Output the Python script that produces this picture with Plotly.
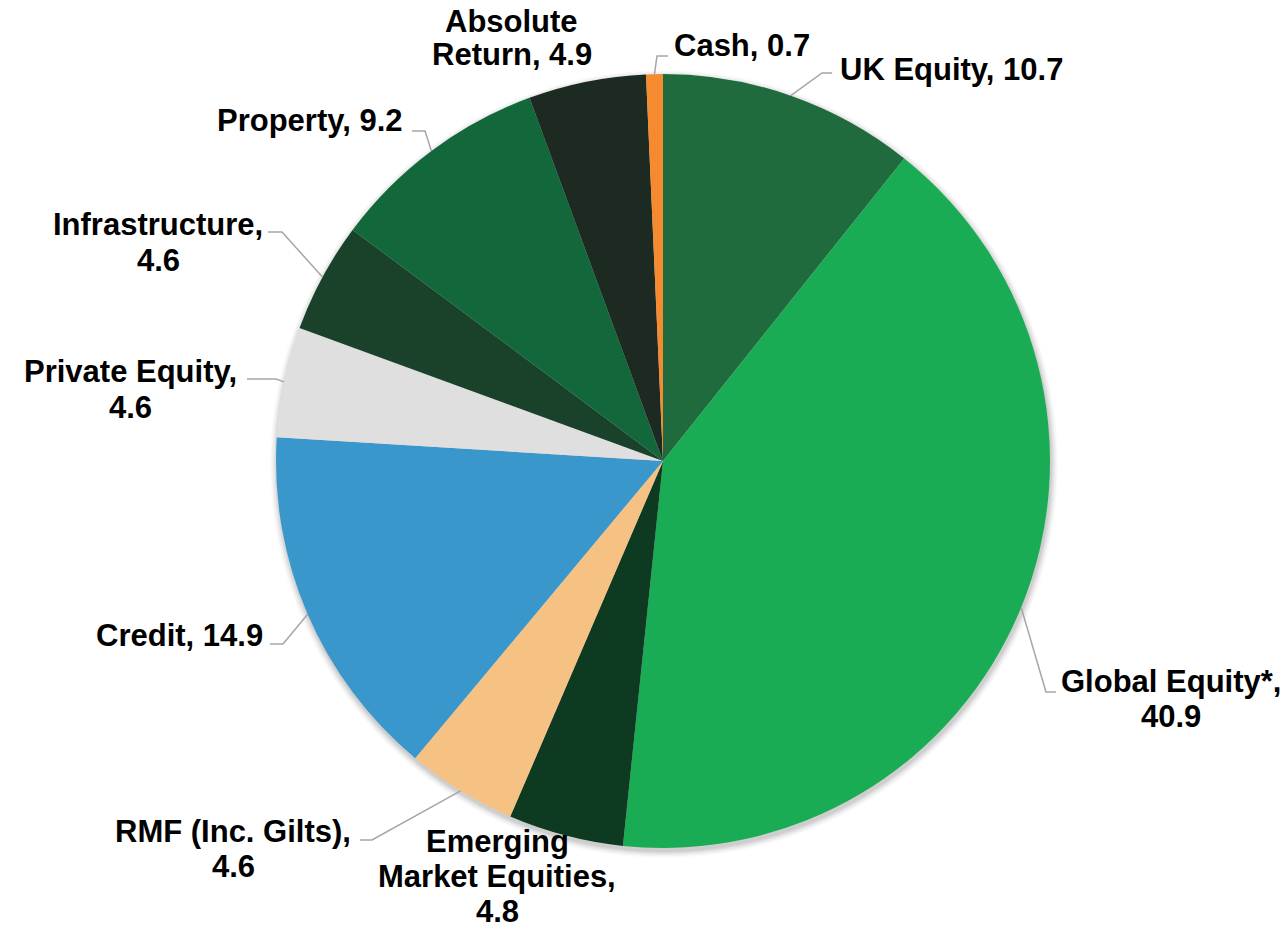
import plotly.graph_objects as go
import numpy as np

# Fund asset allocation (%)
categories = [
    "UK Equity", "Global Equity*", "Emerging Market Equities", "RMF (Inc. Gilts)",
    "Credit", "Private Equity", "Infrastructure", "Property", "Absolute Return", "Cash",
]
values = [10.7, 40.9, 4.8, 4.6, 14.9, 4.6, 4.6, 9.2, 4.9, 0.7]

slice_colors = [
    "#1f6b3d", "#1aab55", "#0f3a22", "#f6c283", "#3a97cb",
    "#e0dfdf", "#1a422a", "#12683a", "#1d2a22", "#f58a2f",
]

# words after which a label wraps onto a new line
label_breaks = {
    "Global Equity*": [2], "Emerging Market Equities": [1, 3], "RMF (Inc. Gilts)": [3],
    "Private Equity": [2], "Infrastructure": [1], "Absolute Return": [1],
}

# label placement in pixels: centre x, first-line y, line pitch
label_place = {
    "UK Equity": (952, 69, 35),
    "Global Equity*": (1171, 681, 35),
    "Emerging Market Equities": (497, 841, 35),
    "RMF (Inc. Gilts)": (233, 831, 35),
    "Credit": (179, 635, 35),
    "Private Equity": (130, 371, 36),
    "Infrastructure": (158, 224, 36),
    "Property": (310, 120, 35),
    "Absolute Return": (512, 21, 34),
    "Cash": (742, 46, 35),
}

# leader-line elbow and end points in pixels (None = no leader)
leader_pts = {
    "UK Equity": ((822, 73), (832, 73)),
    "Global Equity*": ((1046, 692), (1056, 692)),
    "Emerging Market Equities": None,
    "RMF (Inc. Gilts)": ((372, 840), (360, 840)),
    "Credit": ((283, 644), (270, 644)),
    "Private Equity": ((276, 379), (247, 379)),
    "Infrastructure": ((282, 232), (268, 232)),
    "Property": ((425, 131), (412, 131)),
    "Absolute Return": None,
    "Cash": ((657, 56), (668, 56)),
}

W, H = 1288, 930
CX, CY, R = 663, 461, 387
FONT = "Liberation Sans, Arial, sans-serif"


def px(x, y):
    return x / W, 1 - y / H


fig = go.Figure()
fig.add_trace(go.Pie(
    labels=categories,
    values=values,
    sort=False,
    direction="clockwise",
    rotation=0,
    marker=dict(colors=slice_colors, line=dict(width=0)),
    textinfo="none",
    hoverinfo="label+value",
    showlegend=False,
    domain=dict(x=[(CX - R) / W, (CX + R) / W], y=[1 - (CY + R) / H, 1 - (CY - R) / H]),
))

# soft drop shadow under the pie
shapes = []
for k, a in enumerate([0.06, 0.05, 0.04, 0.03, 0.02]):
    rr = R + 1 + k * 1.5
    ox, oy = 1, 3
    x0, y0 = px(CX + ox - rr, CY + oy + rr)
    x1, y1 = px(CX + ox + rr, CY + oy - rr)
    shapes.append(dict(type="circle", xref="paper", yref="paper", x0=x0, y0=y0, x1=x1, y1=y1,
                       fillcolor=f"rgba(0,0,0,{a})", line=dict(width=0), layer="below"))

# leader lines start on the rim at each slice's mid-angle
total = sum(values)
cum = np.cumsum([0] + values)
annotations = []
for i, (cat, val) in enumerate(zip(categories, values)):
    mid = (cum[i] + val / 2) / total * 2 * np.pi
    sx, sy = CX + R * np.sin(mid), CY - R * np.cos(mid)
    pts = leader_pts[cat]
    if pts is not None:
        (ex, ey), (fx, fy) = pts
        p = [px(sx, sy), px(ex, ey), px(fx, fy)]
        path = "M {} {} L {} {} L {} {}".format(*p[0], *p[1], *p[2])
        shapes.append(dict(type="path", xref="paper", yref="paper", path=path,
                           line=dict(color="#a6a6a6", width=1.5), layer="above"))

    words = f"{cat}, {val}".split(" ")
    breaks = [0] + label_breaks.get(cat, []) + [len(words)]
    lines = [" ".join(words[breaks[j]:breaks[j + 1]]) for j in range(len(breaks) - 1)]
    lx, ly, pitch = label_place[cat]
    for j, line in enumerate(lines):
        ax, ay = px(lx, ly + j * pitch)
        annotations.append(dict(
            text=f"<b>{line}</b>", x=ax, y=ay, xref="paper", yref="paper",
            xanchor="center", yanchor="middle", showarrow=False, borderpad=0,
            font=dict(family=FONT, size=31, color="#000000"),
        ))

fig.update_layout(
    width=W, height=H,
    margin=dict(l=0, r=0, t=0, b=0),
    paper_bgcolor="white",
    plot_bgcolor="white",
    shapes=shapes,
    annotations=annotations,
)

fig.write_html("out.html")
